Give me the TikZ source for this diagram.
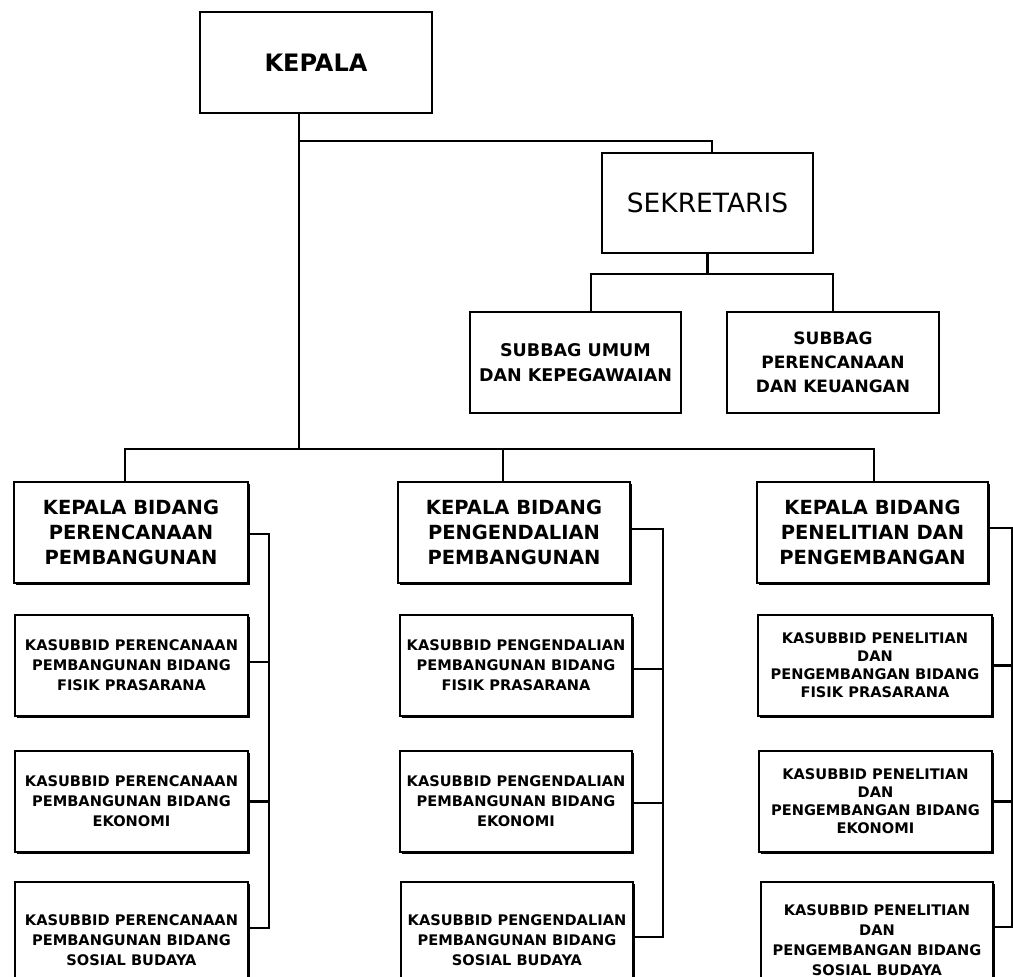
\documentclass[tikz,border=0pt]{standalone}
\usepackage{fontspec}
\setmainfont{DejaVu Sans}
\usetikzlibrary{shadows}
\begin{document}
\begin{tikzpicture}[x=1pt,y=-1pt,
  box/.style={draw, line width=2.4pt, rectangle, inner sep=0pt, align=center, fill=white},
  shbox/.style={box, general shadow={shadow xshift=1.5pt, shadow yshift=-1.5pt, fill=black}},
  head/.style={shbox, minimum width=232pt, minimum height=101pt, font=\fontsize{19.5}{25}\selectfont\bfseries},
  sub/.style={shbox, minimum width=233pt, minimum height=101pt, font=\fontsize{14.6}{20}\selectfont\bfseries},
  subr/.style={shbox, minimum width=233pt, minimum height=101pt, font=\fontsize{14.6}{18}\selectfont\bfseries},
  con/.style={line width=2.4pt}]
\useasboundingbox (0,0) rectangle (1013,977);
\clip (0,0) rectangle (1013,977);
\fill[white] (0,0) rectangle (1013,977);

% top
\node[box, minimum width=232pt, minimum height=101pt, font=\fontsize{24}{28}\selectfont\bfseries] (kepala) at (316,62.5) {KEPALA};
\node[box, minimum width=211pt, minimum height=100pt, font=\fontsize{26.5}{30}\selectfont] (sek) at (707.5,203) {SEKRETARIS};
\node[box, minimum width=211pt, minimum height=101pt, font=\fontsize{17.5}{25}\selectfont\bfseries] (sub1) at (575.5,362.5) {SUBBAG UMUM\\DAN KEPEGAWAIAN};
\node[box, minimum width=212pt, minimum height=101pt, font=\fontsize{17}{24}\selectfont\bfseries] (sub2) at (833,362.5) {SUBBAG\\PERENCANAAN\\DAN KEUANGAN};

% heads
\node[head, minimum width=234pt] (h1) at (131,532.5) {KEPALA BIDANG\\PERENCANAAN\\PEMBANGUNAN};
\node[head] (h2) at (514,532.5) {KEPALA BIDANG\\PENGENDALIAN\\PEMBANGUNAN};
\node[head, minimum width=231pt] (h3) at (872.5,532.5) {KEPALA BIDANG\\PENELITIAN DAN\\PENGEMBANGAN};

% left column
\node[sub] (k11) at (131.5,665.5) {KASUBBID PERENCANAAN\\PEMBANGUNAN BIDANG\\FISIK PRASARANA};
\node[sub] (k12) at (131.5,801.5) {KASUBBID PERENCANAAN\\PEMBANGUNAN BIDANG\\EKONOMI};
\node[sub, minimum height=116pt] (k13) at (131.5,940) {KASUBBID PERENCANAAN\\PEMBANGUNAN BIDANG\\SOSIAL BUDAYA};

% middle column
\node[sub, minimum width=232pt] (k21) at (516,665.5) {KASUBBID PENGENDALIAN\\PEMBANGUNAN BIDANG\\FISIK PRASARANA};
\node[sub, minimum width=232pt] (k22) at (516,801.5) {KASUBBID PENGENDALIAN\\PEMBANGUNAN BIDANG\\EKONOMI};
\node[sub, minimum width=232pt, minimum height=116pt] (k23) at (517,940) {KASUBBID PENGENDALIAN\\PEMBANGUNAN BIDANG\\SOSIAL BUDAYA};

% right column
\node[subr, minimum width=234pt] (k31) at (875,665.5) {KASUBBID PENELITIAN\\DAN\\PENGEMBANGAN BIDANG\\FISIK PRASARANA};
\node[subr, minimum width=233pt] (k32) at (875.5,801.5) {KASUBBID PENELITIAN\\DAN\\PENGEMBANGAN BIDANG\\EKONOMI};
\node[subr, minimum width=232pt, minimum height=116pt, font=\fontsize{14.6}{20}\selectfont\bfseries] (k33) at (877,940) {KASUBBID PENELITIAN\\DAN\\PENGEMBANGAN BIDANG\\SOSIAL BUDAYA};

% junctions
\coordinate (j1) at (299,141);
\coordinate (j2) at (707.5,274);
\coordinate (j3) at (299,449);
\coordinate (c1) at (269,0);
\coordinate (c2) at (663,0);
\coordinate (c3) at (1012,0);

% connectors top
\draw[con] (kepala.south -| j1) -- (j3);
\draw[con] (j1) -| ([xshift=4.5pt]sek.north);
\draw[con] (sek.south) -- (j2);
\draw[con] (j2) -| ([xshift=15.5pt]sub1.north);
\draw[con] (j2) -| (sub2.north);
\draw[con] (j3) -| ([xshift=-6pt]h1.north);
\draw[con] (j3) -| ([xshift=-11pt]h2.north);
\draw[con] (j3) -| ([xshift=1.5pt]h3.north);

% left bracket
\draw[con] ([yshift=-1.5pt]h1.east) -| ([yshift=12pt]k13.east -| c1) -- ([yshift=12pt]k13.east);
\draw[con] ([yshift=3.5pt]k11.east) -- ([yshift=3.5pt]k11.east -| c1);
\draw[con] (k12.east) -- (k12.east -| c1);

% middle bracket
\draw[con] ([yshift=3.5pt]h2.east) -| ([yshift=3pt]k23.east -| c2) -- ([yshift=3pt]k23.east);
\draw[con] ([yshift=-3.5pt]k21.east) -- ([yshift=-3.5pt]k21.east -| c2);
\draw[con] ([yshift=-1.5pt]k22.east) -- ([yshift=-1.5pt]k22.east -| c2);

% right bracket
\draw[con] ([yshift=4.5pt]h3.east) -| ([yshift=13pt]k33.east -| c3) -- ([yshift=13pt]k33.east);
\draw[con] (k31.east) -- (k31.east -| c3);
\draw[con] (k32.east) -- (k32.east -| c3);
\end{tikzpicture}
\end{document}
